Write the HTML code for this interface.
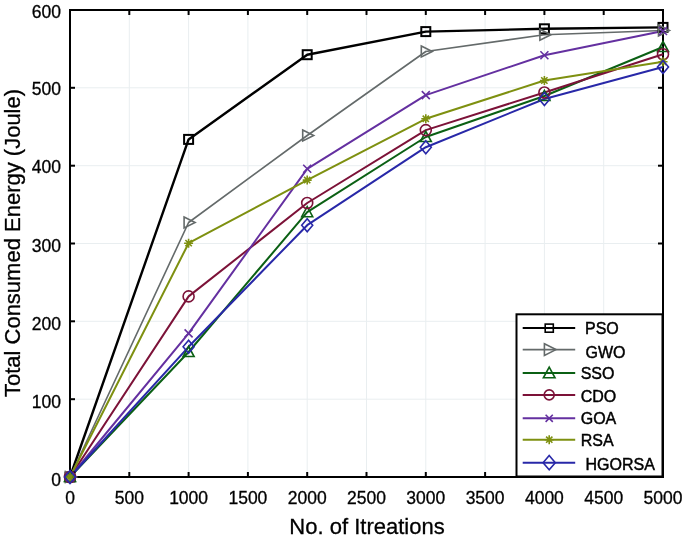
<!DOCTYPE html>
<html><head><meta charset="utf-8"><style>
html,body{margin:0;padding:0;background:#fff;}
body{width:685px;height:537px;overflow:hidden;}
svg{display:block;font-family:"Liberation Sans", sans-serif;}
text{filter:grayscale(1);}
</style></head><body>
<svg width="685" height="537" viewBox="0 0 685 537">
<rect width="685" height="537" fill="#fff"/>
<g stroke="#e9eef0" stroke-width="1"><line x1="129.3" y1="10.0" x2="129.3" y2="477.0"/><line x1="188.6" y1="10.0" x2="188.6" y2="477.0"/><line x1="247.9" y1="10.0" x2="247.9" y2="477.0"/><line x1="307.2" y1="10.0" x2="307.2" y2="477.0"/><line x1="366.5" y1="10.0" x2="366.5" y2="477.0"/><line x1="425.8" y1="10.0" x2="425.8" y2="477.0"/><line x1="485.1" y1="10.0" x2="485.1" y2="477.0"/><line x1="544.4" y1="10.0" x2="544.4" y2="477.0"/><line x1="603.7" y1="10.0" x2="603.7" y2="477.0"/><line x1="70.0" y1="399.2" x2="663.0" y2="399.2"/><line x1="70.0" y1="321.3" x2="663.0" y2="321.3"/><line x1="70.0" y1="243.5" x2="663.0" y2="243.5"/><line x1="70.0" y1="165.7" x2="663.0" y2="165.7"/><line x1="70.0" y1="87.8" x2="663.0" y2="87.8"/></g>
<g stroke="#000" stroke-width="2"><line x1="70.0" y1="477.0" x2="70.0" y2="472.0"/><line x1="70.0" y1="10.0" x2="70.0" y2="15.0"/><line x1="129.3" y1="477.0" x2="129.3" y2="472.0"/><line x1="129.3" y1="10.0" x2="129.3" y2="15.0"/><line x1="188.6" y1="477.0" x2="188.6" y2="472.0"/><line x1="188.6" y1="10.0" x2="188.6" y2="15.0"/><line x1="247.9" y1="477.0" x2="247.9" y2="472.0"/><line x1="247.9" y1="10.0" x2="247.9" y2="15.0"/><line x1="307.2" y1="477.0" x2="307.2" y2="472.0"/><line x1="307.2" y1="10.0" x2="307.2" y2="15.0"/><line x1="366.5" y1="477.0" x2="366.5" y2="472.0"/><line x1="366.5" y1="10.0" x2="366.5" y2="15.0"/><line x1="425.8" y1="477.0" x2="425.8" y2="472.0"/><line x1="425.8" y1="10.0" x2="425.8" y2="15.0"/><line x1="485.1" y1="477.0" x2="485.1" y2="472.0"/><line x1="485.1" y1="10.0" x2="485.1" y2="15.0"/><line x1="544.4" y1="477.0" x2="544.4" y2="472.0"/><line x1="544.4" y1="10.0" x2="544.4" y2="15.0"/><line x1="603.7" y1="477.0" x2="603.7" y2="472.0"/><line x1="603.7" y1="10.0" x2="603.7" y2="15.0"/><line x1="663.0" y1="477.0" x2="663.0" y2="472.0"/><line x1="663.0" y1="10.0" x2="663.0" y2="15.0"/><line x1="70.0" y1="477.0" x2="75.0" y2="477.0"/><line x1="663.0" y1="477.0" x2="658.0" y2="477.0"/><line x1="70.0" y1="399.2" x2="75.0" y2="399.2"/><line x1="663.0" y1="399.2" x2="658.0" y2="399.2"/><line x1="70.0" y1="321.3" x2="75.0" y2="321.3"/><line x1="663.0" y1="321.3" x2="658.0" y2="321.3"/><line x1="70.0" y1="243.5" x2="75.0" y2="243.5"/><line x1="663.0" y1="243.5" x2="658.0" y2="243.5"/><line x1="70.0" y1="165.7" x2="75.0" y2="165.7"/><line x1="663.0" y1="165.7" x2="658.0" y2="165.7"/><line x1="70.0" y1="87.8" x2="75.0" y2="87.8"/><line x1="663.0" y1="87.8" x2="658.0" y2="87.8"/><line x1="70.0" y1="10.0" x2="75.0" y2="10.0"/><line x1="663.0" y1="10.0" x2="658.0" y2="10.0"/></g>
<rect x="70.0" y="10.0" width="593.0" height="467.0" fill="none" stroke="#000" stroke-width="2"/>
<polyline points="70.0,477.0 188.6,139.4 307.2,54.7 425.8,31.6 544.4,28.8 663.0,27.4" fill="none" stroke="#000000" stroke-width="2.4" stroke-linejoin="round"/>
<polyline points="70.0,477.0 188.6,222.5 307.2,135.5 425.8,51.5 544.4,34.7 663.0,30.5" fill="none" stroke="#646a6a" stroke-width="1.6" stroke-linejoin="round"/>
<polyline points="70.0,477.0 188.6,352.0 307.2,212.2 425.8,137.0 544.4,96.0 663.0,47.0" fill="none" stroke="#0b6014" stroke-width="2.0" stroke-linejoin="round"/>
<polyline points="70.0,477.0 188.6,296.4 307.2,203.0 425.8,130.1 544.4,92.5 663.0,54.3" fill="none" stroke="#7c1238" stroke-width="2.0" stroke-linejoin="round"/>
<polyline points="70.0,477.0 188.6,333.4 307.2,168.8 425.8,95.1 544.4,55.2 663.0,31.0" fill="none" stroke="#6430a0" stroke-width="2.0" stroke-linejoin="round"/>
<polyline points="70.0,477.0 188.6,243.2 307.2,180.1 425.8,118.8 544.4,80.5 663.0,61.8" fill="none" stroke="#7e9010" stroke-width="2.0" stroke-linejoin="round"/>
<polyline points="70.0,477.0 188.6,346.8 307.2,225.2 425.8,147.2 544.4,99.0 663.0,67.0" fill="none" stroke="#2828a8" stroke-width="2.0" stroke-linejoin="round"/>
<rect x="65.5" y="472.5" width="9.0" height="9.0" fill="none" stroke="#000000" stroke-width="2.0"/>
<rect x="184.1" y="134.9" width="9.0" height="9.0" fill="none" stroke="#000000" stroke-width="2.0"/>
<rect x="302.7" y="50.2" width="9.0" height="9.0" fill="none" stroke="#000000" stroke-width="2.0"/>
<rect x="421.3" y="27.1" width="9.0" height="9.0" fill="none" stroke="#000000" stroke-width="2.0"/>
<rect x="539.9" y="24.3" width="9.0" height="9.0" fill="none" stroke="#000000" stroke-width="2.0"/>
<rect x="658.5" y="22.9" width="9.0" height="9.0" fill="none" stroke="#000000" stroke-width="2.0"/>
<path d="M65.5,471.5 L76.5,477.0 L65.5,482.5 Z" fill="none" stroke="#646a6a" stroke-width="1.6" stroke-linejoin="miter"/>
<path d="M184.1,217.0 L195.1,222.5 L184.1,228.0 Z" fill="none" stroke="#646a6a" stroke-width="1.6" stroke-linejoin="miter"/>
<path d="M302.7,130.0 L313.7,135.5 L302.7,141.0 Z" fill="none" stroke="#646a6a" stroke-width="1.6" stroke-linejoin="miter"/>
<path d="M421.3,46.0 L432.3,51.5 L421.3,57.0 Z" fill="none" stroke="#646a6a" stroke-width="1.6" stroke-linejoin="miter"/>
<path d="M539.9,29.2 L550.9,34.7 L539.9,40.2 Z" fill="none" stroke="#646a6a" stroke-width="1.6" stroke-linejoin="miter"/>
<path d="M658.5,25.0 L669.5,30.5 L658.5,36.0 Z" fill="none" stroke="#646a6a" stroke-width="1.6" stroke-linejoin="miter"/>
<path d="M70.0,471.5 L75.5,481.5 L64.5,481.5 Z" fill="none" stroke="#0b6014" stroke-width="1.6"/>
<path d="M188.6,346.5 L194.1,356.5 L183.1,356.5 Z" fill="none" stroke="#0b6014" stroke-width="1.6"/>
<path d="M307.2,206.7 L312.7,216.7 L301.7,216.7 Z" fill="none" stroke="#0b6014" stroke-width="1.6"/>
<path d="M425.8,131.5 L431.3,141.5 L420.3,141.5 Z" fill="none" stroke="#0b6014" stroke-width="1.6"/>
<path d="M544.4,90.5 L549.9,100.5 L538.9,100.5 Z" fill="none" stroke="#0b6014" stroke-width="1.6"/>
<path d="M663.0,41.5 L668.5,51.5 L657.5,51.5 Z" fill="none" stroke="#0b6014" stroke-width="1.6"/>
<circle cx="70.0" cy="477.0" r="5.5" fill="none" stroke="#7c1238" stroke-width="1.6"/>
<circle cx="188.6" cy="296.4" r="5.5" fill="none" stroke="#7c1238" stroke-width="1.6"/>
<circle cx="307.2" cy="203.0" r="5.5" fill="none" stroke="#7c1238" stroke-width="1.6"/>
<circle cx="425.8" cy="130.1" r="5.5" fill="none" stroke="#7c1238" stroke-width="1.6"/>
<circle cx="544.4" cy="92.5" r="5.5" fill="none" stroke="#7c1238" stroke-width="1.6"/>
<circle cx="663.0" cy="54.3" r="5.5" fill="none" stroke="#7c1238" stroke-width="1.6"/>
<path d="M66.0,473.0 L74.0,481.0 M66.0,481.0 L74.0,473.0" stroke="#6430a0" stroke-width="1.6"/>
<path d="M184.6,329.4 L192.6,337.4 M184.6,337.4 L192.6,329.4" stroke="#6430a0" stroke-width="1.6"/>
<path d="M303.2,164.8 L311.2,172.8 M303.2,172.8 L311.2,164.8" stroke="#6430a0" stroke-width="1.6"/>
<path d="M421.8,91.1 L429.8,99.1 M421.8,99.1 L429.8,91.1" stroke="#6430a0" stroke-width="1.6"/>
<path d="M540.4,51.2 L548.4,59.2 M540.4,59.2 L548.4,51.2" stroke="#6430a0" stroke-width="1.6"/>
<path d="M659.0,27.0 L667.0,35.0 M659.0,35.0 L667.0,27.0" stroke="#6430a0" stroke-width="1.6"/>
<path d="M65.5,477.0 L74.5,477.0 M70.0,472.5 L70.0,481.5 M66.8,473.9 L73.2,480.1 M66.8,480.1 L73.2,473.9" stroke="#7e9010" stroke-width="1.6"/>
<path d="M184.1,243.2 L193.1,243.2 M188.6,238.7 L188.6,247.7 M185.4,240.0 L191.8,246.3 M185.4,246.3 L191.8,240.0" stroke="#7e9010" stroke-width="1.6"/>
<path d="M302.7,180.1 L311.7,180.1 M307.2,175.6 L307.2,184.6 M304.1,176.9 L310.3,183.2 M304.1,183.2 L310.3,176.9" stroke="#7e9010" stroke-width="1.6"/>
<path d="M421.3,118.8 L430.3,118.8 M425.8,114.3 L425.8,123.3 M422.7,115.6 L428.9,122.0 M422.7,122.0 L428.9,115.6" stroke="#7e9010" stroke-width="1.6"/>
<path d="M539.9,80.5 L548.9,80.5 M544.4,76.0 L544.4,85.0 M541.2,77.3 L547.5,83.7 M541.2,83.7 L547.5,77.3" stroke="#7e9010" stroke-width="1.6"/>
<path d="M658.5,61.8 L667.5,61.8 M663.0,57.3 L663.0,66.3 M659.9,58.6 L666.1,65.0 M659.9,65.0 L666.1,58.6" stroke="#7e9010" stroke-width="1.6"/>
<path d="M70.0,470.5 L75.5,477.0 L70.0,483.5 L64.5,477.0 Z" fill="none" stroke="#2828a8" stroke-width="1.6"/>
<path d="M188.6,340.3 L194.1,346.8 L188.6,353.3 L183.1,346.8 Z" fill="none" stroke="#2828a8" stroke-width="1.6"/>
<path d="M307.2,218.7 L312.7,225.2 L307.2,231.7 L301.7,225.2 Z" fill="none" stroke="#2828a8" stroke-width="1.6"/>
<path d="M425.8,140.7 L431.3,147.2 L425.8,153.7 L420.3,147.2 Z" fill="none" stroke="#2828a8" stroke-width="1.6"/>
<path d="M544.4,92.5 L549.9,99.0 L544.4,105.5 L538.9,99.0 Z" fill="none" stroke="#2828a8" stroke-width="1.6"/>
<path d="M663.0,60.5 L668.5,67.0 L663.0,73.5 L657.5,67.0 Z" fill="none" stroke="#2828a8" stroke-width="1.6"/>
<g font-size="17.5" fill="#000" stroke="#000" stroke-width="0.3"><text x="70.0" y="503.5" text-anchor="middle">0</text><text x="129.3" y="503.5" text-anchor="middle">500</text><text x="188.6" y="503.5" text-anchor="middle">1000</text><text x="247.9" y="503.5" text-anchor="middle">1500</text><text x="307.2" y="503.5" text-anchor="middle">2000</text><text x="366.5" y="503.5" text-anchor="middle">2500</text><text x="425.8" y="503.5" text-anchor="middle">3000</text><text x="485.1" y="503.5" text-anchor="middle">3500</text><text x="544.4" y="503.5" text-anchor="middle">4000</text><text x="603.7" y="503.5" text-anchor="middle">4500</text><text x="663.0" y="503.5" text-anchor="middle">5000</text><text x="61" y="485.8" text-anchor="end">0</text><text x="61" y="407.9" text-anchor="end">100</text><text x="61" y="330.0" text-anchor="end">200</text><text x="61" y="252.0" text-anchor="end">300</text><text x="61" y="172.9" text-anchor="end">400</text><text x="61" y="94.9" text-anchor="end">500</text><text x="61" y="17.5" text-anchor="end">600</text></g>
<text x="367" y="533.5" text-anchor="middle" font-size="22" stroke="#000" stroke-width="0.3">No. of Itreations</text>
<text transform="translate(20.3,243) rotate(-90)" text-anchor="middle" font-size="22" stroke="#000" stroke-width="0.3">Total Consumed Energy (Joule)</text>
<rect x="516.5" y="314.3" width="146.0" height="162.2" fill="#fff" stroke="#000" stroke-width="2"/><line x1="522.7" y1="328.1" x2="575.2" y2="328.1" stroke="#000000" stroke-width="2"/><rect x="545.2" y="324.1" width="8.1" height="8.1" fill="none" stroke="#000000" stroke-width="1.6"/><text x="585" y="334.1" font-size="16" stroke="#000" stroke-width="0.45">PSO</text><line x1="522.7" y1="349.6" x2="575.2" y2="349.6" stroke="#646a6a" stroke-width="1.6"/><path d="M544.4,343.8 L556.0,349.6 L544.4,355.4 Z" fill="none" stroke="#646a6a" stroke-width="1.6" stroke-linejoin="miter"/><text x="585.5" y="357.6" font-size="16" stroke="#000" stroke-width="0.45">GWO</text><line x1="522.7" y1="373" x2="575.2" y2="373" stroke="#0b6014" stroke-width="2.0"/><path d="M549.2,367.2 L555.0,377.8 L543.4,377.8 Z" fill="none" stroke="#0b6014" stroke-width="1.6"/><text x="580.7" y="379.0" font-size="16" stroke="#000" stroke-width="0.45">SSO</text><line x1="522.7" y1="394.9" x2="575.2" y2="394.9" stroke="#7c1238" stroke-width="2.0"/><circle cx="549.2" cy="394.9" r="5.0" fill="none" stroke="#7c1238" stroke-width="1.6"/><text x="580.7" y="401.7" font-size="16" stroke="#000" stroke-width="0.45">CDO</text><line x1="522.7" y1="418.3" x2="575.2" y2="418.3" stroke="#6430a0" stroke-width="2.0"/><path d="M545.6,414.7 L552.8,421.9 M545.6,421.9 L552.8,414.7" stroke="#6430a0" stroke-width="1.6"/><text x="580.7" y="424.2" font-size="16" stroke="#000" stroke-width="0.45">GOA</text><line x1="522.7" y1="439.7" x2="575.2" y2="439.7" stroke="#7e9010" stroke-width="2.0"/><path d="M544.7,439.7 L553.7,439.7 M549.2,435.2 L549.2,444.2 M546.1,436.6 L552.4,442.8 M546.1,442.8 L552.4,436.6" stroke="#7e9010" stroke-width="1.6"/><text x="580.7" y="446.4" font-size="16" stroke="#000" stroke-width="0.45">RSA</text><line x1="522.7" y1="462.7" x2="575.2" y2="462.7" stroke="#2828a8" stroke-width="2.0"/><path d="M549.2,455.6 L555.3,462.7 L549.2,469.8 L543.1,462.7 Z" fill="none" stroke="#2828a8" stroke-width="1.6"/><text x="585.5" y="469.8" font-size="16" stroke="#000" stroke-width="0.45">HGORSA</text>
</svg>
</body></html>
